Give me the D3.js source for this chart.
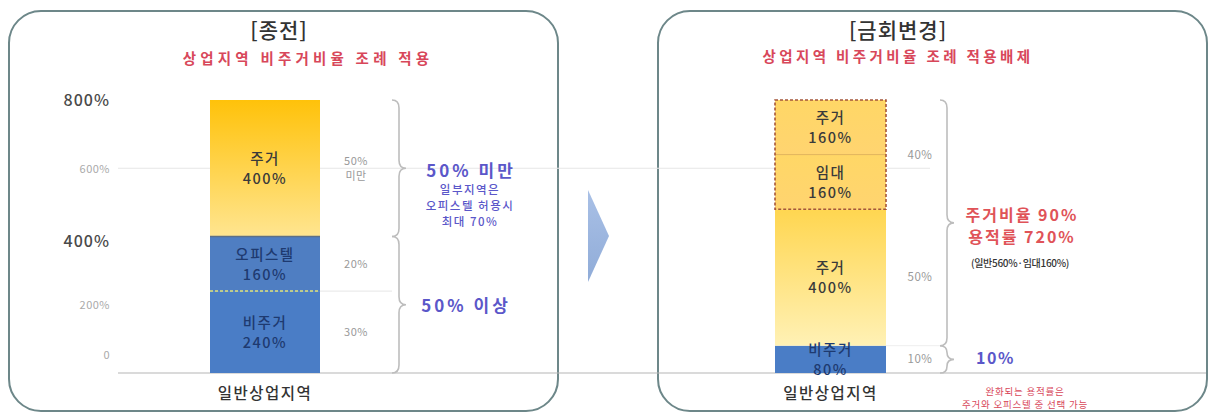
<!DOCTYPE html>
<html>
<head>
<meta charset="utf-8">
<script src="https://cdn.jsdelivr.net/npm/d3@7"></script>
<style>
  body { margin: 0; background: #fff; }
  svg text { font-family: "Noto Sans CJK KR", "Noto Sans", sans-serif; }
</style>
</head>
<body>
<svg id="chart" width="1213" height="414"></svg>
<script>
// data
const yTicks = [0, 200, 400, 600, 800];
const yTickLabels = ["0", "200%", "400%", "600%", "800%"];
const category = "일반상업지역";

const beforeNames = ["비주거", "오피스텔", "주거"];
const beforeValues = [240, 160, 400];
const beforeShares = ["30%", "20%", "50%|미만"];

const afterNames = ["비주거", "주거", "임대", "주거"];
const afterValues = [80, 400, 160, 160];
const afterShares = ["10%", "50%", "40%"];
const afterShareParts = [[0], [1], [2, 3]];

const titles = ["[종전]", "[금회변경]"];
const subtitles = ["상업지역 비주거비율 조례 적용", "상업지역 비주거비율 조례 적용배제"];

const beforeBraceRanges = [[0, 400], [400, 800]];
const beforeBraceTexts = [["50% 이상"], ["50% 미만", "일부지역은", "오피스텔 허용시", "최대 70%"]];
const afterBraceRanges = [[0, 80], [80, 800]];
const afterBraceTexts = [["10%"], ["주거비율 90%", "용적률 720%", "(일반560%·임대160%)"]];
const noteLines = ["완화되는 용적률은", "주거와 오피스텔 중 선택 가능"];

const svg = d3.select("#chart");
const y = d3.scaleLinear().domain([0, 800]).range([373, 100]);
const xBefore = d3.scaleBand().domain([category]).range([210, 320]);
const xAfter = d3.scaleBand().domain([category]).range([775, 886]);

function stackUp(values) {
  let acc = 0;
  return values.map(v => {
    const s = { y0: acc, y1: acc + v, v: v };
    acc += v;
    return s;
  });
}

// gradients
const defs = svg.append("defs");
function vGrad(id, top, bottom) {
  const g = defs.append("linearGradient").attr("id", id)
    .attr("x1", 0).attr("y1", 0).attr("x2", 0).attr("y2", 1);
  g.append("stop").attr("offset", "0%").attr("stop-color", top);
  g.append("stop").attr("offset", "100%").attr("stop-color", bottom);
}
vGrad("goldA", "#ffc20a", "#ffe590");
vGrad("goldB", "#ffd650", "#fff1b5");
vGrad("goldBox", "#ffd766", "#ffd470");
vGrad("arrowGrad", "#a9c0e6", "#90acd8");

// panels
const panelStroke = "#6d8789";
svg.append("rect").attr("x", 9).attr("y", 11).attr("width", 549).attr("height", 400)
  .attr("rx", 32).attr("fill", "none").attr("stroke", panelStroke).attr("stroke-width", 2);
svg.append("rect").attr("x", 658).attr("y", 11).attr("width", 549).attr("height", 400)
  .attr("rx", 32).attr("fill", "none").attr("stroke", panelStroke).attr("stroke-width", 2);

// titles
[279, 898].forEach((cx, i) => {
  svg.append("text").attr("x", cx).attr("y", 38).attr("text-anchor", "middle")
    .attr("font-size", 21).attr("font-weight", 500).attr("fill", "#333").attr("letter-spacing", 1)
    .text(titles[i]);
});
svg.append("text").attr("x", 308).attr("y", 64).attr("text-anchor", "middle")
  .attr("font-size", 14.5).attr("font-weight", 700).attr("fill", "#d8475a").attr("letter-spacing", 4.2)
  .text(subtitles[0]);
svg.append("text").attr("x", 898).attr("y", 62).attr("text-anchor", "middle")
  .attr("font-size", 14.5).attr("font-weight", 700).attr("fill", "#d8475a").attr("letter-spacing", 3.4)
  .text(subtitles[1]);

// gridlines & baseline
svg.append("line").attr("x1", 118).attr("x2", 930).attr("y1", y(600)).attr("y2", y(600))
  .attr("stroke", "#e6e6e6").attr("stroke-width", 1);
svg.append("line").attr("x1", 320).attr("x2", 392).attr("y1", y(240)).attr("y2", y(240))
  .attr("stroke", "#e6e6e6").attr("stroke-width", 1);
svg.append("line").attr("x1", 886).attr("x2", 940).attr("y1", y(80)).attr("y2", y(80))
  .attr("stroke", "#eeeeee").attr("stroke-width", 1);
svg.append("line").attr("x1", 118).attr("x2", 1206).attr("y1", y(0)).attr("y2", y(0))
  .attr("stroke", "#b5b5b5").attr("stroke-width", 1.2);

// y axis
const yAxis = d3.axisLeft(y).tickValues(yTicks).tickSize(0).tickPadding(0)
  .tickFormat((d, i) => yTickLabels[i]);
const gAxis = svg.append("g").attr("transform", "translate(110,0)").call(yAxis);
gAxis.select(".domain").remove();
gAxis.selectAll("text")
  .attr("font-family", "'Noto Sans CJK KR', 'Noto Sans', sans-serif")
  .attr("font-size", d => (d === 800 || d === 400) ? 16 : 11)
  .attr("font-weight", d => (d === 800 || d === 400) ? 500 : 400)
  .attr("fill", d => (d === 800 || d === 400) ? "#4a4a4a" : "#aaa")
  .attr("letter-spacing", d => (d === 800 || d === 400) ? 1 : 0.5)
  .attr("dy", d => d === 0 ? "-1.3em" : (d === 400 ? "0.6em" : "0.35em"));

// bars - before
const beforeFill = ["#4a7dc6", "#4f7ec2", "url(#goldA)"];
const beforeText = ["#1e3a70", "#1e3a70", "#3a3a3a"];
const beforeStack = stackUp(beforeValues);
const bw = xBefore.bandwidth();
svg.selectAll("rect.before").data(beforeStack).join("rect").attr("class", "before")
  .attr("x", xBefore(category)).attr("width", bw)
  .attr("y", d => y(d.y1)).attr("height", d => y(d.y0) - y(d.y1))
  .attr("fill", (d, i) => beforeFill[i]);
// 오피스텔 edges
svg.append("line").attr("x1", xBefore(category)).attr("x2", xBefore(category) + bw)
  .attr("y1", y(400)).attr("y2", y(400)).attr("stroke", "#5d6f86").attr("stroke-width", 1.5);
svg.append("line").attr("x1", xBefore(category)).attr("x2", xBefore(category) + bw)
  .attr("y1", y(240)).attr("y2", y(240)).attr("stroke", "#dfe27a").attr("stroke-width", 1.5)
  .attr("stroke-dasharray", "3,2");

function barLabels(stack, names, x, colors) {
  stack.forEach((d, i) => {
    const mid = (y(d.y0) + y(d.y1)) / 2;
    svg.append("text").attr("x", x).attr("y", mid - 4).attr("text-anchor", "middle")
      .attr("font-size", 14.5).attr("font-weight", 500).attr("fill", colors[i])
      .attr("letter-spacing", 1.5).text(names[i]);
    svg.append("text").attr("x", x).attr("y", mid + 16).attr("text-anchor", "middle")
      .attr("font-size", 14.5).attr("font-weight", 500).attr("fill", colors[i])
      .attr("letter-spacing", 1.5).text(d.v + "%");
  });
}
barLabels(beforeStack, beforeNames, xBefore(category) + bw / 2, beforeText);

// share labels - before
beforeStack.forEach((d, i) => {
  const mid = (y(d.y0) + y(d.y1)) / 2;
  const lines = beforeShares[i].split("|");
  lines.forEach((s, j) => {
    svg.append("text").attr("x", 356).attr("y", mid + 4 + (j - (lines.length - 1) / 2) * 15)
      .attr("text-anchor", "middle").attr("font-size", 11).attr("fill", "#999")
      .attr("letter-spacing", 0.5).text(s);
  });
});

// bars - after
const afterFill = ["#4a7dc6", "url(#goldB)", "url(#goldBox)", "url(#goldBox)"];
const afterText = ["#1e3a70", "#3a3a3a", "#3a3a3a", "#3a3a3a"];
const afterStack = stackUp(afterValues);
const bw2 = xAfter.bandwidth();
svg.selectAll("rect.after").data(afterStack).join("rect").attr("class", "after")
  .attr("x", xAfter(category)).attr("width", bw2)
  .attr("y", d => y(d.y1)).attr("height", d => y(d.y0) - y(d.y1))
  .attr("fill", (d, i) => afterFill[i]);
svg.append("line").attr("x1", xAfter(category)).attr("x2", xAfter(category) + bw2)
  .attr("y1", y(afterStack[3].y0)).attr("y2", y(afterStack[3].y0))
  .attr("stroke", "#e2b45a").attr("stroke-width", 1);
svg.append("rect").attr("x", xAfter(category)).attr("width", bw2)
  .attr("y", y(afterStack[3].y1)).attr("height", y(afterStack[2].y0) - y(afterStack[3].y1))
  .attr("fill", "none").attr("stroke", "#a4553a").attr("stroke-width", 1.6)
  .attr("stroke-dasharray", "3,2");
barLabels(afterStack, afterNames, xAfter(category) + bw2 / 2, afterText);

// share labels - after
afterShareParts.forEach((parts, i) => {
  const lo = afterStack[parts[0]].y0, hi = afterStack[parts[parts.length - 1]].y1;
  svg.append("text").attr("x", 920).attr("y", (y(lo) + y(hi)) / 2 + 4)
    .attr("text-anchor", "middle").attr("font-size", 11.5).attr("fill", "#999")
    .attr("letter-spacing", 0.5).text(afterShares[i]);
});

// braces
function bracePath(x, yTop, yBot, w) {
  const tip = (yTop + yBot) / 2, r = Math.min(8, (yBot - yTop) / 4), xm = x + w / 2;
  return `M${x},${yTop} Q${xm},${yTop} ${xm},${yTop + r} L${xm},${tip - r} ` +
    `Q${xm},${tip} ${x + w},${tip} Q${xm},${tip} ${xm},${tip + r} ` +
    `L${xm},${yBot - r} Q${xm},${yBot} ${x},${yBot}`;
}
beforeBraceRanges.forEach(r => {
  svg.append("path").attr("d", bracePath(392, y(r[1]), y(r[0]), 14))
    .attr("fill", "none").attr("stroke", "#bdbdbd").attr("stroke-width", 1.6);
});
afterBraceRanges.forEach(r => {
  svg.append("path").attr("d", bracePath(940, y(r[1]), y(r[0]), 14))
    .attr("fill", "none").attr("stroke", "#bdbdbd").attr("stroke-width", 1.6);
});

// brace texts - before
const blue = "#5b57c9";
{
  const tipLow = (y(0) + y(400)) / 2, tipHigh = (y(400) + y(800)) / 2;
  svg.append("text").attr("x", 466).attr("y", tipLow + 7).attr("text-anchor", "middle")
    .attr("font-size", 17).attr("font-weight", 700).attr("fill", blue).attr("letter-spacing", 3)
    .text(beforeBraceTexts[0][0]);
  svg.append("text").attr("x", 471).attr("y", tipHigh + 9).attr("text-anchor", "middle")
    .attr("font-size", 17).attr("font-weight", 700).attr("fill", blue).attr("letter-spacing", 3)
    .text(beforeBraceTexts[1][0]);
  beforeBraceTexts[1].slice(1).forEach((s, j) => {
    svg.append("text").attr("x", 470).attr("y", tipHigh + 26 + j * 16).attr("text-anchor", "middle")
      .attr("font-size", 11.5).attr("font-weight", 500).attr("fill", blue).attr("letter-spacing", 1.5)
      .text(s);
  });
}

// brace texts - after
{
  const tipLow = (y(0) + y(80)) / 2, tipHigh = (y(80) + y(800)) / 2;
  svg.append("text").attr("x", 976).attr("y", tipLow + 5)
    .attr("font-size", 16).attr("font-weight", 700).attr("fill", blue).attr("letter-spacing", 1.5)
    .text(afterBraceTexts[0][0]);
  const red = "#e05358";
  svg.append("text").attr("x", 1022).attr("y", tipHigh - 2).attr("text-anchor", "middle")
    .attr("font-size", 16).attr("font-weight", 700).attr("fill", red).attr("letter-spacing", 2)
    .text(afterBraceTexts[1][0]);
  svg.append("text").attr("x", 1022).attr("y", tipHigh + 20).attr("text-anchor", "middle")
    .attr("font-size", 16).attr("font-weight", 700).attr("fill", red).attr("letter-spacing", 2)
    .text(afterBraceTexts[1][1]);
  svg.append("text").attr("x", 1020).attr("y", tipHigh + 44).attr("text-anchor", "middle")
    .attr("font-size", 10).attr("font-weight", 500).attr("fill", "#333").attr("letter-spacing", -0.3)
    .text(afterBraceTexts[1][2]);
}

// category labels
[xBefore(category) + bw / 2, xAfter(category) + bw2 / 2].forEach(cx => {
  svg.append("text").attr("x", cx).attr("y", 399).attr("text-anchor", "middle")
    .attr("font-size", 15.5).attr("font-weight", 500).attr("fill", "#333").attr("letter-spacing", 1.5)
    .text(category);
});

// note
noteLines.forEach((s, j) => {
  svg.append("text").attr("x", 1025).attr("y", 395 + j * 13).attr("text-anchor", "middle")
    .attr("font-size", 9.5).attr("fill", "#d8475a").attr("letter-spacing", 0.8).text(s);
});

// arrow
svg.append("path").attr("d", "M588,190 L609,236 L588,282 Z").attr("fill", "url(#arrowGrad)");
</script>
</body>
</html>
